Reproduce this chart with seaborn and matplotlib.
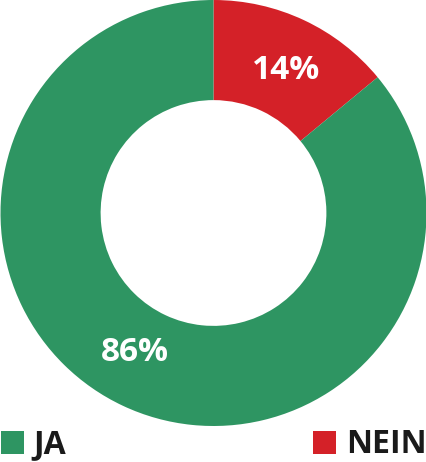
import matplotlib
matplotlib.use("Agg")
import matplotlib.pyplot as plt
import seaborn as sns
import numpy as np

# data
labels = ["JA", "NEIN"]
values = [86, 14]
colors = ["#2e9562", "#d42128"]

sns.set_theme(style="white")
plt.rcParams["font.family"] = ["Open Sans", "DejaVu Sans"]

fig = plt.figure(figsize=(4.27, 4.62), dpi=100)
ax = fig.add_axes([0, 1 - 426 / 462, 1, 426 / 462])

# NEIN first, starting at the top and going clockwise
wedges, texts = ax.pie(
    values[::-1],
    colors=colors[::-1],
    startangle=90,
    counterclock=False,
    radius=1,
    wedgeprops=dict(width=0.47, linewidth=0),
)

# percent labels (angle in degrees where the label sits)
label_angles = [63, 240.5]
for v, a in zip(values[::-1], label_angles):
    ang = np.deg2rad(a)
    ax.text(0.75 * np.cos(ang), 0.75 * np.sin(ang), f"{v}%",
            ha="center", va="center", color="white",
            fontsize=24, fontweight="bold")

ax.set_xlim(-1, 1)
ax.set_ylim(-1, 1)
ax.set_aspect("equal")
ax.axis("off")

# legend, one entry at each side
leg_kw = dict(frameon=False, handlelength=0.72, handleheight=0.72,
              handletextpad=0.3, borderpad=0, borderaxespad=0.02,
              labelcolor="#1a1a1a", prop=dict(weight="bold", size=23))
fig.legend([wedges[1]], [labels[0]], loc="lower left", **leg_kw)
fig.legend([wedges[0]], [labels[1]], loc="lower right", **leg_kw)

fig.savefig("out.png", dpi=100)
